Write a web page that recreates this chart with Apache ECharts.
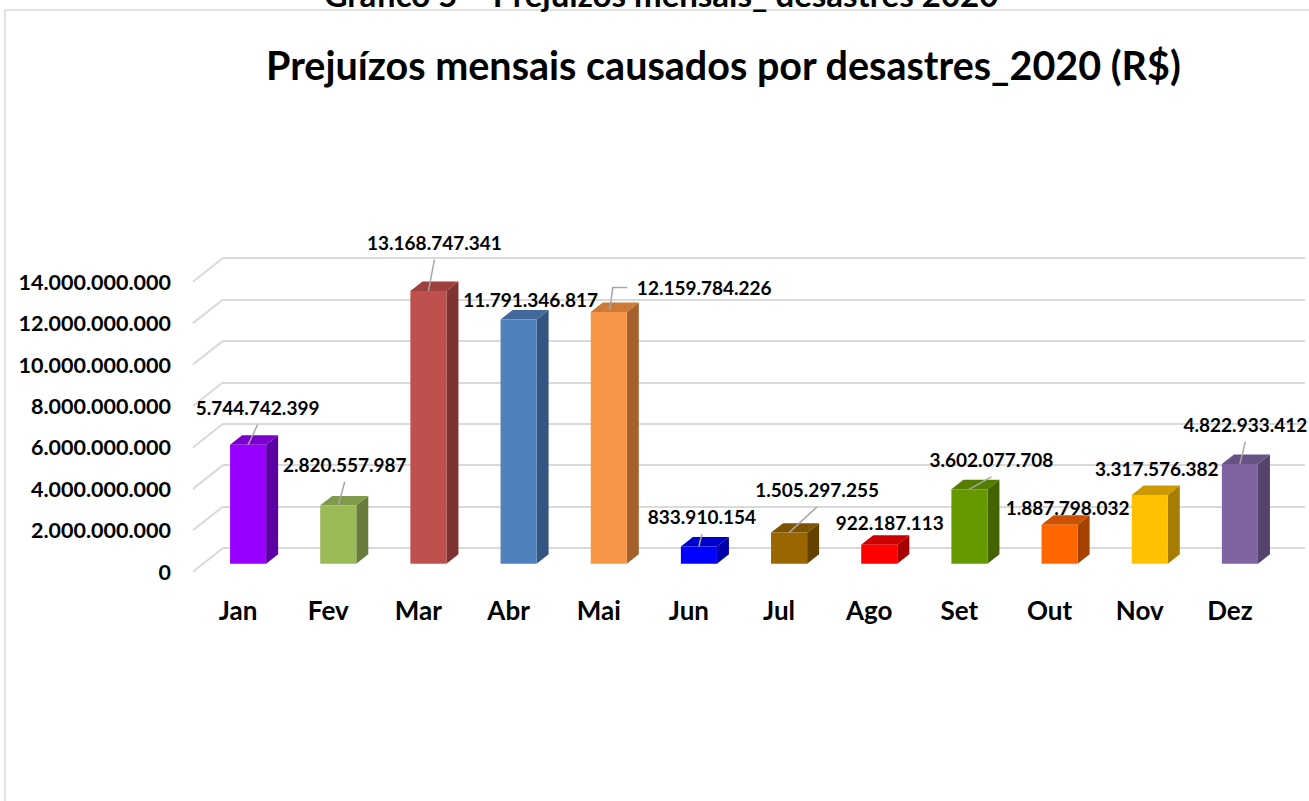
<!DOCTYPE html>
<html>
<head>
<meta charset="utf-8">
<title>Prejuízos mensais causados por desastres 2020</title>
<script src="https://cdn.jsdelivr.net/npm/echarts@6/dist/echarts.min.js"></script>
<style>
  html, body { margin: 0; padding: 0; background: #ffffff; }
  #chart { width: 1309px; height: 801px; }
</style>
</head>
<body>
<div id="chart"></div>
<script>
  // dados do gráfico
  var months = ['Jan', 'Fev', 'Mar', 'Abr', 'Mai', 'Jun', 'Jul', 'Ago', 'Set', 'Out', 'Nov', 'Dez']
  var losses = [5744742399, 2820557987, 13168747341, 11791346817, 12159784226, 833910154,
    1505297255, 922187113, 3602077708, 1887798032, 3317576382, 4822933412]
  var yTicks = [0, 2000000000, 4000000000, 6000000000, 8000000000, 10000000000, 12000000000, 14000000000]

  // cores das barras: frente, lateral, topo
  var frontColors = ['#9900ff', '#9bbb59', '#c0504d', '#4f81bd', '#f79646', '#0000ff',
    '#996600', '#ff0000', '#669900', '#ff6600', '#ffc000', '#8064a2']
  var sideColors = ['#5c00a3', '#687d3b', '#7d3331', '#33557f', '#a5612c', '#0000a6',
    '#634200', '#a60000', '#426300', '#a64200', '#a67d00', '#54436b']
  var topColors = ['#7a00cc', '#7f9a48', '#9e403d', '#41699b', '#cc7a38', '#0000cc',
    '#7d5300', '#cc0000', '#527d00', '#cc5200', '#cc9a00', '#695385']

  // posição dos rótulos em relação ao topo da barra, e tipo de linha guia
  var labelOffsets = [[9.5, -37], [6.5, -40.6], [6, -48.4], [12, -20], [95.5, -24.3], [3, -29.7],
    [28, -42.8], [10.5, -22], [22, -29.4], [8, -17], [7, -26.3], [5.5, -39.2]]
  var leaders = ['up', 'up', 'up', 'none', 'side', 'up', 'up', 'none', 'up', 'none', 'none', 'up']

  // geometria da perspectiva 3D
  var DEPTH_X = 30
  var DEPTH_Y = 23.7
  var PLOT_W = 1082
  var PLOT_H = 290
  var FRONT_LEFT = 193
  var FRONT_TOP = 281.7

  var FONT = 'Lato, "Open Sans", sans-serif'
  var GRID_COLOR = '#d9d9d9'

  function fmt (v) {
    return String(v).replace(/\B(?=(\d{3})+(?!\d))/g, '.')
  }

  var myChart = echarts.init(document.getElementById('chart'), null, { renderer: 'svg' })

  function renderFloorLines (params, api) {
    var p = api.coord([0, api.value(0)])
    var x = params.coordSys.x
    return {
      type: 'line',
      shape: { x1: x, y1: p[1], x2: x + DEPTH_X, y2: p[1] - DEPTH_Y },
      style: { stroke: GRID_COLOR, lineWidth: 2 },
      silent: true
    }
  }

  function renderBar (params, api) {
    var i = params.dataIndex
    var v = api.value(1)
    var base = api.coord([api.value(0), 0])
    var top = api.coord([api.value(0), v])
    var band = api.size([1, 0])[0]
    var w = band * 0.4
    var dx = DEPTH_X * 0.4
    var dy = DEPTH_Y * 0.4
    var x0 = base[0] - w / 2
    var x1 = base[0] + w / 2
    var children = [
      {
        type: 'polygon',
        shape: { points: [[x1, top[1]], [x1 + dx, top[1] - dy], [x1 + dx, base[1] - dy], [x1, base[1]]] },
        style: { fill: sideColors[i] }
      },
      {
        type: 'polygon',
        shape: { points: [[x0, top[1]], [x0 + dx, top[1] - dy], [x1 + dx, top[1] - dy], [x1, top[1]]] },
        style: { fill: topColors[i] }
      },
      {
        type: 'rect',
        shape: { x: x0, y: top[1], width: w, height: base[1] - top[1] },
        style: { fill: frontColors[i] }
      }
    ]
    var lx = base[0] + labelOffsets[i][0]
    var ly = top[1] + labelOffsets[i][1]
    children.push({
      type: 'text',
      z2: 20,
      style: {
        text: fmt(v),
        x: lx,
        y: ly,
        align: 'center',
        verticalAlign: 'middle',
        fill: '#000000',
        font: 'bold 19px ' + FONT
      }
    })
    if (leaders[i] === 'up') {
      children.push({
        type: 'line',
        z2: 15,
        shape: { x1: base[0], y1: top[1], x2: lx, y2: ly + 17 },
        style: { stroke: '#a6a6a6', lineWidth: 1.5 }
      })
    } else if (leaders[i] === 'side') {
      var left = lx - 77
      children.push({
        type: 'polyline',
        z2: 15,
        shape: { points: [[base[0] + 1, top[1] - 2], [base[0] + 4, ly], [left, ly]] },
        style: { stroke: '#a6a6a6', lineWidth: 1.5, fill: null }
      })
    }
    return { type: 'group', children: children }
  }

  var option = {
    backgroundColor: '#ffffff',
    animation: false,
    title: {
      text: 'Prejuízos mensais causados por desastres_2020 (R$)',
      left: 261,
      top: 39,
      textStyle: { fontFamily: FONT, fontWeight: 'bold', fontSize: 39.5, color: '#000000' }
    },
    graphic: [
      {
        type: 'rect',
        silent: true,
        shape: { x: 5, y: 10, width: 1320, height: 820 },
        style: { fill: null, stroke: '#d9d9d9', lineWidth: 1.5 }
      },
      {
        type: 'text',
        silent: true,
        style: {
          text: 'Gráfico 5 – Prejuízos mensais_ desastres 2020',
          x: 661,
          y: 10,
          align: 'center',
          verticalAlign: 'bottom',
          fill: '#000000',
          font: 'bold 33px ' + FONT
        }
      }
    ],
    grid: [
      { left: FRONT_LEFT, top: FRONT_TOP, width: PLOT_W, height: PLOT_H },
      { left: FRONT_LEFT + DEPTH_X / 3, top: FRONT_TOP - DEPTH_Y / 3, width: PLOT_W, height: PLOT_H },
      { left: FRONT_LEFT + DEPTH_X, top: FRONT_TOP - DEPTH_Y, width: PLOT_W, height: PLOT_H }
    ],
    xAxis: [0, 1, 2].map(function (g) {
      return {
        type: 'category',
        gridIndex: g,
        data: months,
        axisLine: { show: false },
        axisTick: { show: false },
        splitLine: { show: false },
        axisLabel: {
          show: g === 0,
          margin: 25,
          color: '#000000',
          fontFamily: FONT,
          fontWeight: 'bold',
          fontSize: 26
        }
      }
    }),
    yAxis: [0, 1, 2].map(function (g) {
      return {
        type: 'value',
        gridIndex: g,
        min: yTicks[0],
        max: yTicks[yTicks.length - 1],
        interval: yTicks[1] - yTicks[0],
        axisLine: { show: false },
        axisTick: { show: false },
        splitLine: { show: g === 2, lineStyle: { color: GRID_COLOR, width: 2 } },
        axisLabel: {
          show: g === 0,
          margin: 22,
          color: '#000000',
          fontFamily: FONT,
          fontWeight: 'bold',
          fontSize: 21.5,
          formatter: fmt
        }
      }
    }),
    series: [
      {
        name: 'piso',
        type: 'custom',
        xAxisIndex: 0,
        yAxisIndex: 0,
        silent: true,
        renderItem: renderFloorLines,
        data: yTicks.map(function (t) { return [t] }),
        encode: { y: 0 },
        z: 1
      },
      {
        name: 'Prejuízos',
        type: 'custom',
        xAxisIndex: 1,
        yAxisIndex: 1,
        renderItem: renderBar,
        data: losses.map(function (v, i) { return [i, v] }),
        encode: { x: 0, y: 1 },
        z: 5
      }
    ]
  }
  myChart.setOption(option)
</script>
</body>
</html>
